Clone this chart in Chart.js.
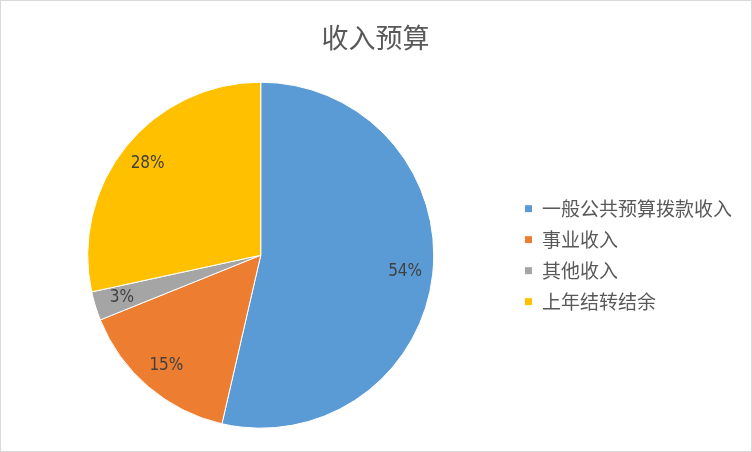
<!DOCTYPE html>
<html>
<head>
<meta charset="utf-8">
<script src="https://cdn.jsdelivr.net/npm/chart.js@4/dist/chart.umd.min.js"></script>
<style>
  body { margin: 0; background: #fff; }
  #wrap { width: 750px; height: 450px; border: 1px solid #d9d9d9; }
</style>
</head>
<body>
<div id="wrap"><canvas id="pie" width="750" height="450"></canvas></div>
<script>
// data
const chartTitle = '收入预算';
const categories = ['一般公共预算拨款收入', '事业收入', '其他收入', '上年结转结余'];
const shares = [53.6, 15.3, 2.7, 28.4];
const sliceColors = ['#5B9BD5', '#ED7D31', '#A5A5A5', '#FFC000'];

const cjk = '"Noto Sans CJK SC", "Noto Sans", sans-serif';

// percent labels inside the slices
const pctLabels = {
  id: 'pctLabels',
  afterDatasetsDraw(chart) {
    const c = chart.ctx;
    const total = shares.reduce((a, b) => a + b, 0);
    const arcs = chart.getDatasetMeta(0).data;
    c.save();
    c.fillStyle = '#404040';
    c.font = '17px "Liberation Sans Narrow", "DejaVu Sans Condensed", sans-serif';
    c.textAlign = 'center';
    c.textBaseline = 'middle';
    arcs.forEach((arc, i) => {
      const p = arc.getProps(['x', 'y', 'startAngle', 'endAngle', 'outerRadius'], true);
      const mid = (p.startAngle + p.endAngle) / 2;
      const r = p.outerRadius * 0.84;
      const txt = Math.round(shares[i] / total * 100) + '%';
      c.fillText(txt, p.x + Math.cos(mid) * r, p.y + Math.sin(mid) * r);
    });
    c.restore();
  }
};

new Chart(document.getElementById('pie'), {
  type: 'pie',
  data: {
    labels: categories,
    datasets: [{
      data: shares,
      backgroundColor: sliceColors,
      borderColor: '#ffffff',
      borderWidth: 1,
      radius: 173
    }]
  },
  options: {
    responsive: false,
    animation: false,
    events: [],
    layout: { padding: { left: 8, right: 9, top: 0, bottom: 5 } },
    plugins: {
      title: {
        display: true,
        text: chartTitle,
        color: '#595959',
        font: { family: cjk, size: 27, weight: 'normal', lineHeight: 1.2 },
        padding: { top: 21, bottom: 10 }
      },
      legend: {
        position: 'right',
        fullSize: false,
        labels: {
          color: '#595959',
          font: { family: cjk, size: 19 },
          boxWidth: 8,
          boxHeight: 8,
          padding: 12
        }
      },
      tooltip: { enabled: false }
    }
  },
  plugins: [pctLabels]
});
</script>
</body>
</html>
